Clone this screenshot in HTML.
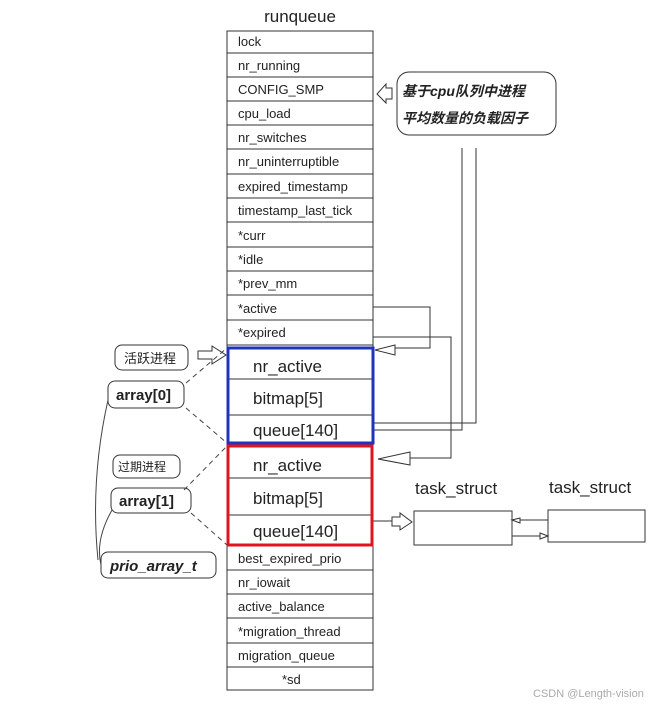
<!DOCTYPE html>
<html><head><meta charset="utf-8"><style>
body{margin:0;background:#fff;width:659px;height:706px;overflow:hidden}
svg{position:absolute;left:0;top:0}
text{font-family:"Liberation Sans","Noto Sans CJK SC",sans-serif;fill:#222}
.s{font-size:13px}
.b{font-size:17px}
</style></head><body>
<svg width="659" height="706" viewBox="0 0 659 706">
<text x="300" y="22" font-size="17" text-anchor="middle">runqueue</text>
<g stroke="#333" stroke-width="1" fill="none">
<rect x="227" y="31" width="146" height="659"/>
<path d="M227 53H373M227 77H373M227 101H373M227 125H373M227 149H373M227 174H373M227 198H373M227 222H373M227 247H373M227 271H373M227 295H373M227 320H373M227 345H373M227 570H373M227 594H373M227 618H373M227 643H373M227 667H373"/>
<path d="M229 379H372M229 415H372M229 478H372M229 515H372"/>
<path d="M373 307H430V348H395M373 337H451V458H410M373 430H462V148M373 423H476V148"/>
<path d="M373 521H392"/>
<path d="M512 520H548M512 536H548"/>
<rect x="414" y="511" width="98" height="34"/>
<rect x="548" y="510" width="97" height="32"/>
</g>
<rect x="228" y="348" width="145" height="95" fill="none" stroke="#2233bb" stroke-width="3"/>
<rect x="228" y="446" width="144" height="99" fill="none" stroke="#e0141e" stroke-width="3"/>
<g fill="#fff" stroke="#333" stroke-width="1">
<path d="M395 345L375 350L395 355Z"/>
<path d="M410 452L378 459L410 465Z"/>
<path d="M392 517H400V513L412 522L400 530V526H392Z"/>
<path d="M198 351H212V346L226 355L212 364V359H198Z"/>
<path d="M392 88H386V84L377 94L386 103V99H392Z"/>
<path d="M520 518L512 520L520 523Z"/>
<path d="M540 533L548 536L540 539Z"/>
<rect x="397" y="72" width="159" height="63" rx="12"/>
<rect x="115" y="345" width="73" height="25" rx="7"/>
<rect x="108" y="381" width="76" height="27" rx="7"/>
<rect x="113" y="455" width="67" height="23" rx="7"/>
<rect x="111" y="488" width="80" height="25" rx="7"/>
<rect x="101" y="552" width="115" height="26" rx="7"/>
</g>
<g stroke="#444" stroke-width="1" fill="none" stroke-dasharray="5,4">
<path d="M186 383L227 348M186 408L227 443M184 490L227 446M191 513L227 545"/>
</g>
<g stroke="#444" stroke-width="1" fill="none">
<path d="M108 400Q90 480 98 560M112 510Q95 540 101 565"/>
</g>
<g class="s">
<text x="238" y="46">lock</text><text x="238" y="70">nr_running</text><text x="238" y="94">CONFIG_SMP</text>
<text x="238" y="118">cpu_load</text><text x="238" y="142">nr_switches</text><text x="238" y="166">nr_uninterruptible</text>
<text x="238" y="191">expired_timestamp</text><text x="238" y="215">timestamp_last_tick</text><text x="238" y="240">*curr</text>
<text x="238" y="264">*idle</text><text x="238" y="288">*prev_mm</text><text x="238" y="313">*active</text>
<text x="238" y="337">*expired</text><text x="238" y="563">best_expired_prio</text><text x="238" y="587">nr_iowait</text>
<text x="238" y="611">active_balance</text><text x="238" y="636">*migration_thread</text><text x="238" y="660">migration_queue</text>
<text x="282" y="684">*sd</text>
</g>
<g class="b">
<text x="253" y="372">nr_active</text><text x="253" y="404">bitmap[5]</text><text x="253" y="436">queue[140]</text>
<text x="253" y="471">nr_active</text><text x="253" y="504">bitmap[5]</text><text x="253" y="537">queue[140]</text>
<text x="415" y="494">task_struct</text><text x="549" y="493">task_struct</text>
</g>
<text x="402" y="96" font-size="14" font-weight="bold" font-style="italic">基于cpu队列中进程</text>
<text x="402" y="123" font-size="14" font-weight="bold" font-style="italic">平均数量的负载因子</text>
<text x="124" y="363" font-size="13">活跃进程</text>
<text x="116" y="400" font-size="15" font-weight="bold">array[0]</text>
<text x="118" y="471" font-size="12">过期进程</text>
<text x="119" y="506" font-size="15" font-weight="bold">array[1]</text>
<text x="110" y="571" font-size="15" font-weight="bold" font-style="italic">prio_array_t</text>
<text x="533" y="697" font-size="11" fill="#999" style="fill:#aaa">CSDN @Length-vision</text>
</svg>
</body></html>
